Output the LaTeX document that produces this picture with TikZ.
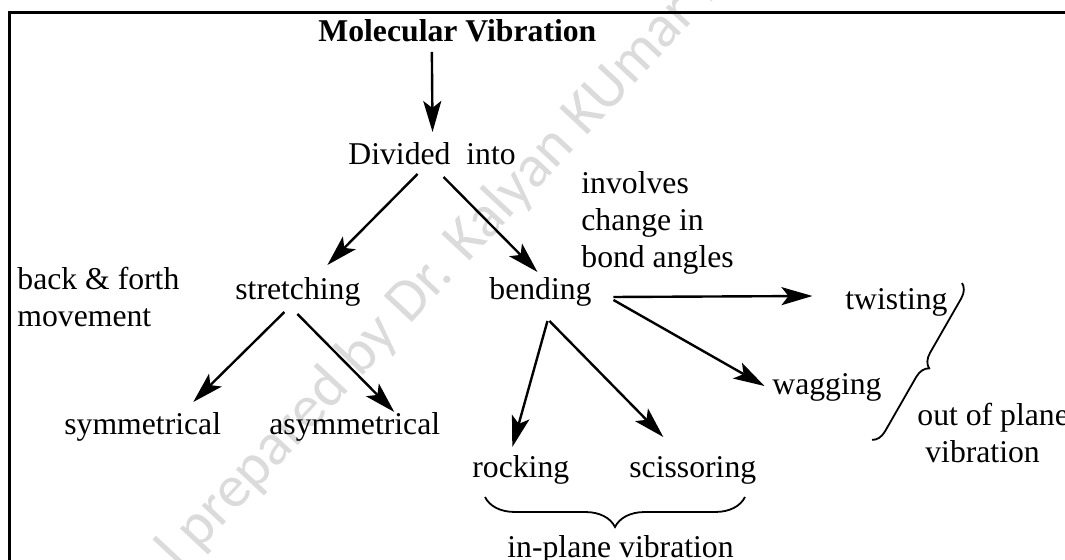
\documentclass[tikz,border=0pt]{standalone}
\usepackage{fontspec}
\setmainfont{Liberation Serif}
\newfontfamily\wmfont{Carlito}
\usetikzlibrary{arrows.meta,calc,decorations.pathreplacing}
\begin{document}
\begin{tikzpicture}[x=0.5pt,y=-0.5pt,
  lbl/.style={inner sep=0pt, anchor=base west, font=\fontsize{15.85pt}{18.5pt}\selectfont},
  arr/.style={-{Stealth[length=15.5pt,width=9pt,inset=3.5pt]}, line width=1.2pt},
  brc/.style={decorate, decoration={brace,amplitude=#1}, line width=0.9pt}]
\useasboundingbox (0,0) rectangle (1065,560);
% watermark
\node[rotate=47, anchor=base west, inner sep=0pt, text=black!14,
  font=\wmfont\fontsize{30pt}{30pt}\selectfont] (wm) at (180,572) {l prepared by Dr. Kalyan KUmar Ma};
% frame
\draw[line width=1.3pt] (9.5,12.8) rectangle (1100,600);
% texts
\node[lbl, font=\fontsize{15.85pt}{18.5pt}\selectfont\bfseries] (mv) at (318,42) {Molecular Vibration};
\node[lbl] (div) at (348,165) {Divided~~into};
\node[lbl, align=left] (inv) at (581,268) {involves\\change in\\bond angles};
\node[lbl, align=left] (bf) at (17,327) {back \& forth\\movement};
\node[lbl] (str) at (235,300) {stretching};
\node[lbl] (bend) at (489,300) {bending};
\node[lbl] (twist) at (845,310) {twisting};
\node[lbl] (wag) at (772,395) {wagging};
\node[lbl] (sym) at (64,435) {symmetrical};
\node[lbl] (asym) at (269,435) {asymmetrical};
\node[lbl] (rock) at (472,478) {rocking};
\node[lbl] (sci) at (629,478) {scissoring};
\node[lbl] (inpl) at (507,558) {in-plane vibration};
\node[lbl, align=left] (oop) at (917,463) {out of plane\\\hspace*{0.25em}vibration};
% arrows
\draw[arr] ($(mv.base)+(-25.5,10)$) -- ($(div.base)+(0.5,-33)$);
\draw[arr] ($(div.base)+(-14.5,9)$) -- ($(str.base)+(29.5,-35)$);
\draw[arr] ($(div.base)+(11.5,12)$) -- ($(bend.base)+(-3,-28)$);
\draw[arr] ($(str.base)+(-13.5,12)$) -- ($(sym.base)+(50.5,-33)$);
\draw[arr] ($(str.base)+(-0.5,14)$) -- ($(asym.base)+(39.5,-23)$);
\draw[arr] ($(bend.base)+(73,-3)$) -- ($(twist.base)+(-84,-14)$);
\draw[arr] ($(bend.base)+(73,0)$) -- ($(wag.base)+(-62.5,-9)$);
\draw[arr] ($(bend.base)+(7,21)$) -- ($(rock.base)+(-8.5,-31)$);
\draw[arr] ($(bend.base)+(9,21)$) -- ($(sci.base)+(-29.5,-41)$);
% braces
\coordinate (br1) at (745,497);
\coordinate (br2) at (485,497);
\draw[brc=15pt] (br1) -- (br2);
\coordinate (bt) at (962,283);
\coordinate (bb) at (872,440);
\draw[brc=7pt] (bt) -- (bb);
\end{tikzpicture}
\end{document}
